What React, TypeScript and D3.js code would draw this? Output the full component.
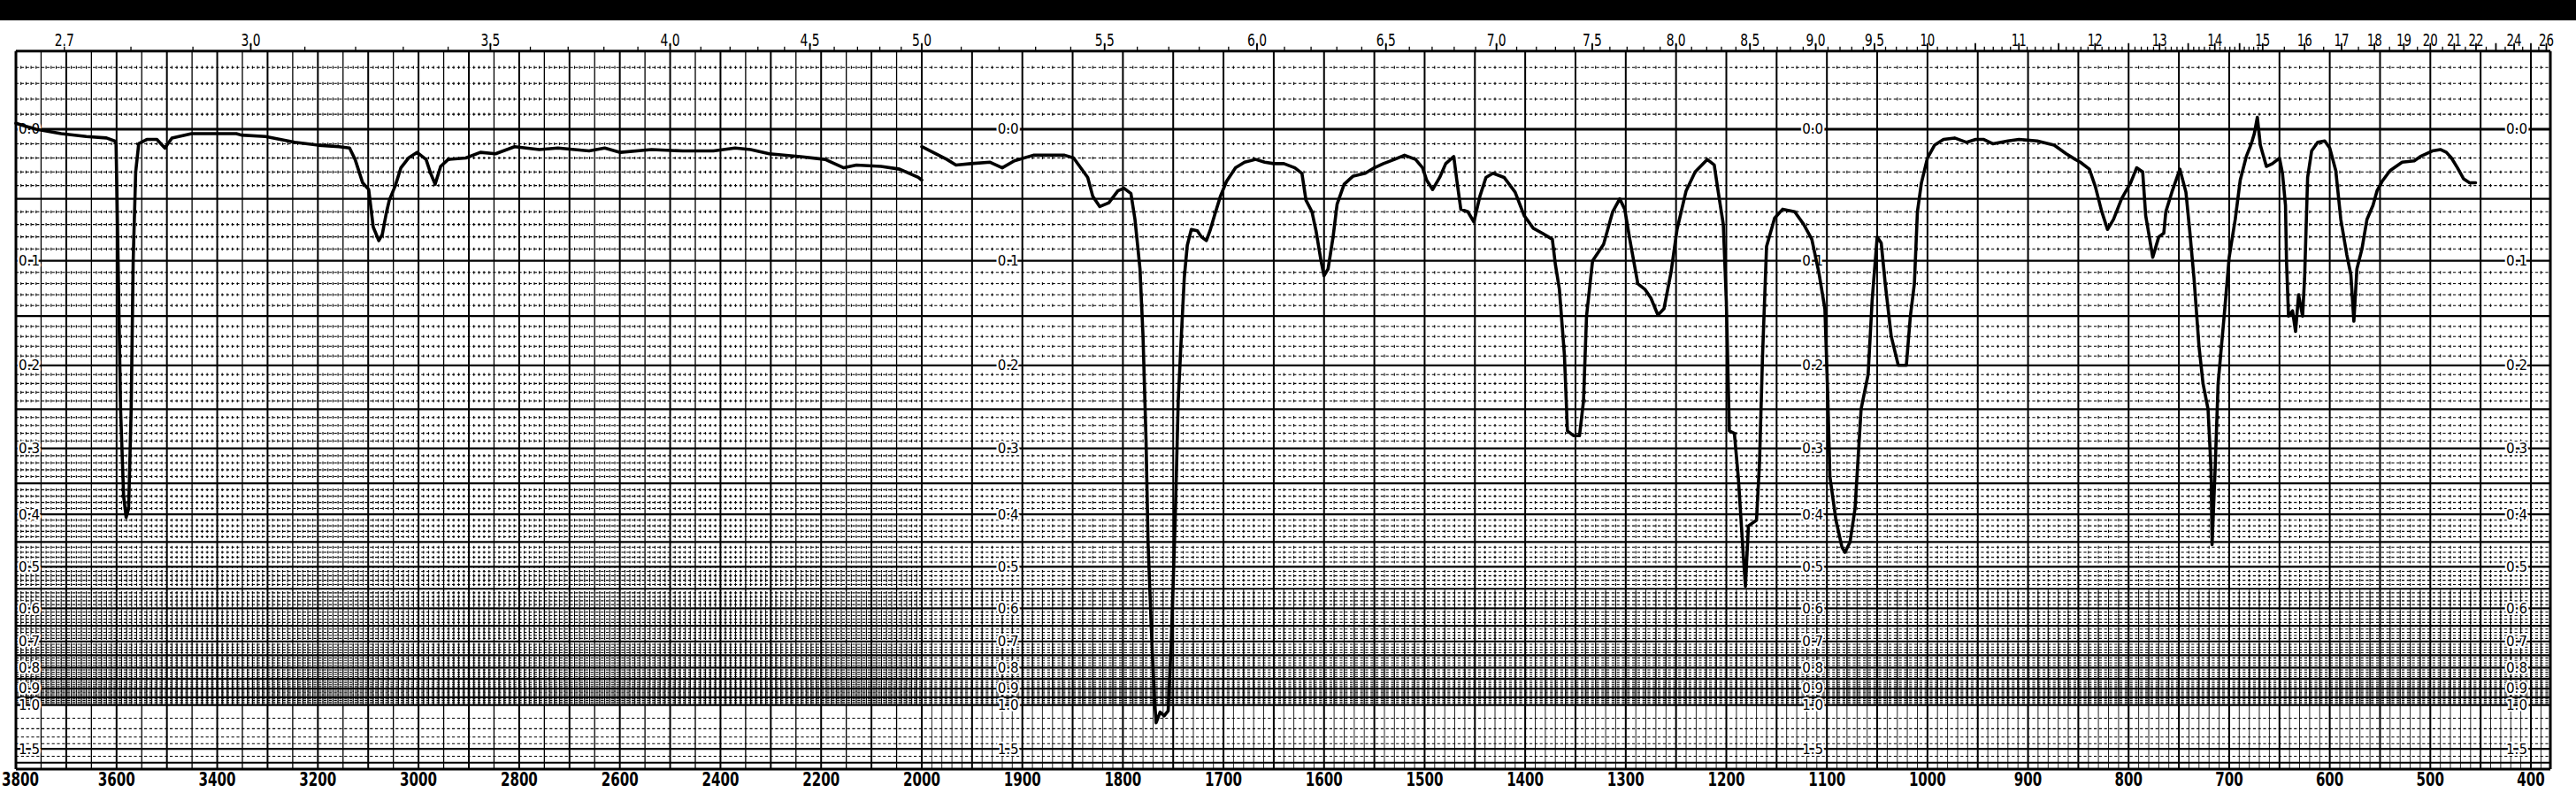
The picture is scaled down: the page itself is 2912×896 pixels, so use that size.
import React from "react";
import * as d3 from "d3";

const W = 2912;
const H = 896;

// bottom axis, wavenumber (cm-1)
const wavenumberTicks = [3800, 3600, 3400, 3200, 3000, 2800, 2600, 2400, 2200, 2000, 1900, 1800, 1700, 1600, 1500, 1400, 1300, 1200, 1100, 1000, 900, 800, 700, 600, 500, 400];
// top axis, wavelength (microns)
const micronTicks = ["2.7", "3.0", "3.5", "4.0", "4.5", "5.0", "5.5", "6.0", "6.5", "7.0", "7.5", "8.0", "8.5", "9.0", "9.5", "10", "11", "12", "13", "14", "15", "16", "17", "18", "19", "20", "21", "22", "24", "26"];
// absorbance labels and the columns they are printed at
const absTicks = ["0.0", "0.1", "0.2", "0.3", "0.4", "0.5", "0.6", "0.7", "0.8", "0.9", "1.0", "1.5"];
const absLabelCols = [3800, 1900, 1100, 400];

// first scan, 3800 - 2000
const scan1Wn = [3800, 3780, 3760, 3710, 3660, 3620, 3604, 3601, 3597, 3592, 3586, 3581, 3576, 3571, 3567, 3562, 3556, 3540, 3520, 3504, 3490, 3451, 3400, 3362, 3352, 3304, 3275, 3246, 3199, 3158, 3137, 3126, 3111, 3099, 3090, 3079, 3072, 3064, 3058, 3046, 3035, 3020, 3003, 2985, 2976, 2967, 2956, 2941, 2906, 2877, 2847, 2809, 2760, 2723, 2661, 2630, 2599, 2537, 2475, 2414, 2371, 2340, 2303, 2241, 2192, 2155, 2130, 2081, 2044, 2007, 2000];
const scan1Abs = [-0.004, -0.002, 0.0, 0.003, 0.005, 0.006, 0.008, 0.01, 0.1, 0.25, 0.37, 0.405, 0.39, 0.25, 0.1, 0.03, 0.01, 0.007, 0.007, 0.013, 0.006, 0.003, 0.003, 0.003, 0.004, 0.005, 0.007, 0.009, 0.011, 0.012, 0.013, 0.021, 0.038, 0.043, 0.072, 0.083, 0.078, 0.061, 0.051, 0.04, 0.027, 0.02, 0.016, 0.021, 0.031, 0.039, 0.026, 0.021, 0.02, 0.016, 0.017, 0.012, 0.014, 0.013, 0.015, 0.013, 0.016, 0.014, 0.015, 0.015, 0.013, 0.014, 0.017, 0.019, 0.021, 0.027, 0.025, 0.026, 0.028, 0.034, 0.036];

// second scan, 2000 - 455
const scan2Wn = [2000, 1975, 1966, 1951, 1932, 1920, 1908, 1889, 1858, 1849, 1835, 1830, 1823, 1814, 1805, 1799, 1792, 1788, 1783, 1780, 1777, 1775, 1772, 1769, 1767, 1763, 1759, 1755, 1752, 1748, 1745, 1742, 1739, 1736, 1732, 1726, 1722, 1717, 1713, 1709, 1703, 1697, 1688, 1679, 1668, 1659, 1650, 1640, 1629, 1622, 1618, 1612, 1608, 1603, 1600, 1596, 1591, 1587, 1580, 1571, 1559, 1550, 1541, 1530, 1520, 1509, 1502, 1498, 1492, 1485, 1479, 1471, 1468, 1464, 1457, 1451, 1445, 1439, 1432, 1421, 1410, 1401, 1392, 1383, 1377, 1373, 1370, 1366, 1361, 1358, 1352, 1346, 1342, 1339, 1333, 1322, 1313, 1306, 1301, 1296, 1288, 1281, 1275, 1268, 1262, 1255, 1249, 1240, 1231, 1219, 1212, 1208, 1203, 1200, 1197, 1192, 1188, 1183, 1181, 1178, 1170, 1167, 1164, 1160, 1152, 1144, 1132, 1123, 1115, 1108, 1102, 1099, 1097, 1091, 1085, 1082, 1077, 1072, 1066, 1059, 1055, 1050, 1046, 1042, 1036, 1029, 1021, 1017, 1013, 1010, 1006, 1000, 993, 984, 973, 961, 952, 944, 935, 920, 909, 891, 874, 862, 853, 848, 839, 833, 827, 821, 815, 807, 798, 792, 786, 783, 780, 776, 770, 765, 763, 757, 749, 743, 739, 735, 730, 726, 721, 718, 717, 714, 711, 705, 700, 694, 689, 683, 678, 675, 672, 669, 663, 657, 650, 647, 644, 643, 641, 637, 634, 631, 627, 625, 622, 618, 612, 605, 600, 594, 589, 583, 579, 576, 573, 568, 563, 557, 553, 548, 540, 528, 516, 510, 498, 490, 484, 479, 473, 467, 461, 455];
const scan2Abs = [0.012, 0.021, 0.025, 0.024, 0.023, 0.027, 0.022, 0.018, 0.018, 0.02, 0.034, 0.048, 0.056, 0.053, 0.044, 0.042, 0.046, 0.066, 0.107, 0.17, 0.289, 0.45, 0.64, 0.92, 1.14, 1.05, 1.08, 1.04, 0.71, 0.41, 0.24, 0.172, 0.115, 0.087, 0.074, 0.075, 0.08, 0.083, 0.074, 0.063, 0.048, 0.037, 0.027, 0.023, 0.021, 0.023, 0.024, 0.024, 0.027, 0.031, 0.051, 0.06, 0.075, 0.1, 0.113, 0.107, 0.08, 0.054, 0.039, 0.033, 0.031, 0.027, 0.024, 0.021, 0.018, 0.021, 0.027, 0.036, 0.043, 0.034, 0.024, 0.019, 0.036, 0.058, 0.06, 0.068, 0.048, 0.034, 0.031, 0.034, 0.045, 0.063, 0.073, 0.077, 0.08, 0.082, 0.103, 0.125, 0.189, 0.277, 0.283, 0.283, 0.24, 0.15, 0.1, 0.086, 0.06, 0.05, 0.058, 0.082, 0.12, 0.125, 0.133, 0.149, 0.143, 0.11, 0.074, 0.044, 0.03, 0.021, 0.025, 0.045, 0.07, 0.136, 0.277, 0.28, 0.343, 0.48, 0.544, 0.42, 0.41, 0.32, 0.19, 0.088, 0.065, 0.058, 0.06, 0.07, 0.082, 0.11, 0.143, 0.24, 0.34, 0.41, 0.46, 0.47, 0.45, 0.39, 0.25, 0.21, 0.135, 0.08, 0.085, 0.12, 0.17, 0.2, 0.2, 0.15, 0.12, 0.06, 0.038, 0.02, 0.011, 0.007, 0.006, 0.009, 0.007, 0.007, 0.01, 0.008, 0.007, 0.008, 0.011, 0.017, 0.021, 0.023, 0.028, 0.041, 0.059, 0.074, 0.066, 0.05, 0.038, 0.027, 0.03, 0.063, 0.077, 0.097, 0.08, 0.077, 0.06, 0.045, 0.028, 0.045, 0.077, 0.115, 0.18, 0.22, 0.25, 0.33, 0.455, 0.33, 0.22, 0.15, 0.097, 0.066, 0.036, 0.019, 0.01, 0.003, -0.008, 0.011, 0.026, 0.024, 0.02, 0.031, 0.055, 0.1, 0.15, 0.145, 0.165, 0.13, 0.15, 0.115, 0.034, 0.015, 0.009, 0.008, 0.013, 0.029, 0.066, 0.095, 0.112, 0.155, 0.107, 0.09, 0.066, 0.055, 0.044, 0.037, 0.029, 0.023, 0.022, 0.019, 0.015, 0.014, 0.016, 0.02, 0.027, 0.035, 0.038, 0.038];

// scales: wavenumber is compressed 2x above 2000, paper is linear in transmittance
const x = d3.scaleLinear().domain([3800, 2000, 400]).range([18, 1042, 2861]);
const tr = d3.scaleLinear().domain([1, 0]).range([146, 869]);
const y = (a: number) => tr(Math.pow(10, -a));

const xLeft = x(3800);
const xRight = 2883;
const yTop = y(-0.05);
const yBot = tr(0);

function buildGrid() {
  const majorCols: number[] = [];
  for (let w = 3800; w >= 400; w -= 50) majorCols.push(w);
  const minorCols: number[] = [];
  for (let w = 3790; w > 382; w -= 10) if (w % 50 !== 0) minorCols.push(w);

  const minorRows: number[] = [];
  const majorRows: number[] = [];
  for (let i = -4; i <= 100; i++) {
    if (i % 5 === 0) {
      if (i >= 0) majorRows.push(i / 100);
    } else minorRows.push(i / 100);
  }

  let minorH = "";
  minorRows.forEach((a) => (minorH += `M${xLeft},${y(a)}H${xRight}`));
  [1.1, 1.2, 1.3, 1.4, 1.7].forEach((a) => (minorH += `M${xLeft},${y(a)}H${xRight}`));

  let majorH = "";
  majorRows.forEach((a) => (majorH += `M${xLeft},${y(a)}H${xRight}`));
  [1.5, 2.0].forEach((a) => (majorH += `M${xLeft},${y(a)}H${xRight}`));

  // little crosses where the 10 cm-1 divisions meet the dashed rows
  let ticks = "";
  minorRows.forEach((a) => {
    const yy = y(a);
    minorCols.forEach((w) => (ticks += `M${x(w).toFixed(1)},${(yy - 1.6).toFixed(1)}v3.2`));
  });

  // dense part of the paper
  let denseSolid = "";
  let denseDot = "";
  minorCols.forEach((w) => {
    if (w < 2000) denseSolid += `M${x(w).toFixed(1)},${y(0.55)}V${yBot}`;
    else denseDot += `M${x(w).toFixed(1)},${y(0.5)}V${y(1.0)}`;
  });

  let boldV = "";
  let thinV = "";
  majorCols.forEach((w) => {
    const s = `M${x(w)},${yTop}V${yBot}`;
    if (w > 2000 && w % 100 !== 0) thinV += s;
    else boldV += s;
  });

  return { minorH, majorH, ticks, denseSolid, denseDot, boldV, thinV };
}

function micronTickPath() {
  let minor = "";
  let major = "";
  for (let i = 27; i <= 150; i++) {
    const xx = x(100000 / i);
    if (i % 5 === 0) major += `M${xx},${yTop - 9}V${yTop}`;
    else minor += `M${xx},${yTop - 5}V${yTop}`;
  }
  for (let l = 15.5; l <= 26; l += 0.5) {
    const xx = x(10000 / l);
    if (l % 1 === 0) major += `M${xx},${yTop - 9}V${yTop}`;
    else minor += `M${xx},${yTop - 5}V${yTop}`;
  }
  return { minor, major };
}

const halo = { paintOrder: "stroke" as const, stroke: "#fff", strokeWidth: 4, strokeLinejoin: "round" as const };

const trace = (wn: number[], ab: number[]) =>
  d3
    .line<number>()
    .x((d) => x(d))
    .y((_, i) => y(ab[i]))(wn) as string;

export default function App() {
  const g = buildGrid();
  const mt = micronTickPath();

  return (
    <svg
      width={W}
      height={H}
      viewBox={`0 0 ${W} ${H}`}
      style={{ position: "absolute", left: 0, top: 0, display: "block", background: "#fff" }}
      fontFamily="'DejaVu Sans Condensed', 'DejaVu Sans', sans-serif"
    >
      <rect x={0} y={0} width={W} height={H} fill="#fff" />
      <rect x={0} y={0} width={W} height={23} fill="#000" />

      {/* chart paper */}
      <path d={g.denseDot} stroke="#000" strokeWidth={1} strokeDasharray="1.5 2.5" fill="none" />
      <path d={g.denseSolid} stroke="#000" strokeWidth={1} fill="none" opacity={0.85} />
      <path d={g.minorH} stroke="#000" strokeWidth={1.1} strokeDasharray="3.2 2.6" fill="none" />
      <path d={g.ticks} stroke="#000" strokeWidth={1.1} fill="none" />
      <path d={g.thinV} stroke="#000" strokeWidth={1.3} fill="none" />
      <path d={g.boldV} stroke="#000" strokeWidth={2} fill="none" />
      <path d={g.majorH} stroke="#000" strokeWidth={2.2} fill="none" />
      <path d={`M${xLeft},${y(0)}H${xRight}`} stroke="#000" strokeWidth={2.8} />

      {/* frame */}
      <path d={`M${xLeft},${yTop}H${xRight}M${xLeft},${yBot}H${xRight}`} stroke="#000" strokeWidth={3} />
      <path d={`M${xLeft},${yTop}V${yBot}M${xRight},${yTop}V${yBot}`} stroke="#000" strokeWidth={3} />

      {/* wavelength scale on top */}
      <path d={mt.minor} stroke="#000" strokeWidth={1.3} />
      <path d={mt.major} stroke="#000" strokeWidth={1.8} />
      {micronTicks.map((m) => {
        const n = m.replace(".", "").length;
        return (
          <text
            key={m}
            x={x(10000 / parseFloat(m))}
            y={52}
            fontSize={19}
            textAnchor="middle"
            textLength={n * 8.5 + (m.includes(".") ? 5 : 0)}
            lengthAdjust="spacingAndGlyphs"
          >
            {m}
          </text>
        );
      })}

      {/* wavenumber scale below */}
      {wavenumberTicks.map((w) => (
        <text
          key={w}
          x={w === 3800 ? 23 : x(w)}
          y={888}
          fontSize={22}
          fontWeight="bold"
          textAnchor="middle"
          textLength={String(w).length * 10.5}
          lengthAdjust="spacingAndGlyphs"
        >
          {w}
        </text>
      ))}

      {/* absorbance labels */}
      {absLabelCols.map((c, ci) =>
        absTicks.map((t) => (
          <text
            key={`${c}-${t}`}
            x={ci === 0 ? xLeft + 3 : x(c) - 4}
            y={y(parseFloat(t))}
            dy="0.36em"
            fontSize={15}
            textAnchor={ci === 0 ? "start" : "end"}
            textLength={24}
            lengthAdjust="spacingAndGlyphs"
            style={halo}
          >
            {t}
          </text>
        ))
      )}

      {/* recorder trace */}
      <path d={trace(scan1Wn, scan1Abs)} fill="none" stroke="#000" strokeWidth={3.6} strokeLinejoin="round" strokeLinecap="round" />
      <path d={trace(scan2Wn, scan2Abs)} fill="none" stroke="#000" strokeWidth={3.6} strokeLinejoin="round" strokeLinecap="round" />
    </svg>
  );
}
